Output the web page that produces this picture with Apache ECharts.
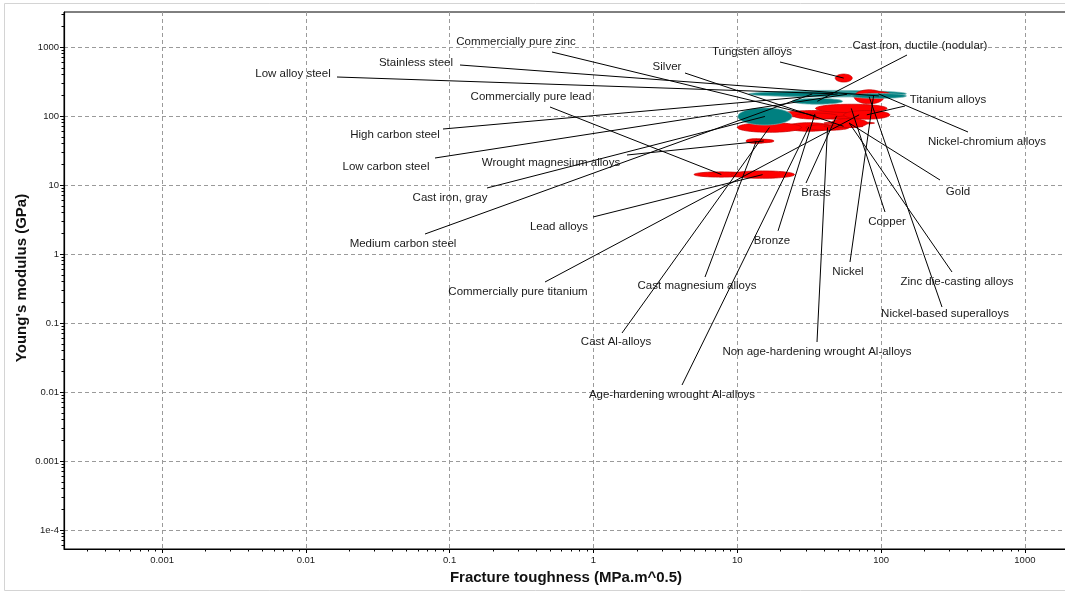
<!DOCTYPE html>
<html>
<head>
<meta charset="utf-8">
<script src="https://cdn.jsdelivr.net/npm/echarts@6/dist/echarts.min.js"></script>
<style>
  html, body { margin: 0; padding: 0; background: #ffffff; }
  #chart { width: 1065px; height: 594px; }
</style>
</head>
<body>
<div id="chart"></div>
<script>
// Metal families plotted as property envelopes:
// fracture toughness (MPa.m^0.5) against Young's modulus (GPa), both on log scales.
const materialNames = [
  'Cast iron, gray', 'Cast iron, ductile (nodular)', 'Low alloy steel', 'Medium carbon steel',
  'High carbon steel', 'Low carbon steel', 'Stainless steel',
  'Commercially pure lead', 'Lead alloys', 'Cast magnesium alloys', 'Wrought magnesium alloys',
  'Cast Al-alloys', 'Age-hardening wrought Al-alloys', 'Non age-hardening wrought Al-alloys',
  'Commercially pure zinc', 'Zinc die-casting alloys', 'Silver', 'Gold', 'Brass', 'Bronze',
  'Copper', 'Commercially pure titanium', 'Titanium alloys', 'Nickel', 'Nickel-chromium alloys',
  'Nickel-based superalloys', 'Tungsten alloys'
];
// 1 = ferrous (teal), 0 = non-ferrous (red)
const ferrous = [1, 1, 1, 1, 1, 1, 1, 0, 0, 0, 0, 0, 0, 0, 0, 0, 0, 0, 0, 0, 0, 0, 0, 0, 0, 0, 0];
const toughnessMin = [10.1, 24, 14, 12, 27, 41, 62, 5, 9, 11.5, 13, 10, 22, 30, 25, 45, 40, 40, 30, 20, 35, 55, 55, 75, 80, 65, 48];
const toughnessMax = [24, 54, 150, 92, 92, 82, 150, 12, 25, 16, 18, 28, 45, 60, 50, 80, 75, 90, 80, 60, 110, 90, 115, 105, 115, 105, 63];
const modulusMin   = [74, 148, 188, 192, 196, 194, 180, 13, 12.5, 40, 41, 58, 60, 62, 90, 68, 69, 77, 90, 95, 112, 100, 90, 185, 195, 150, 310];
const modulusMax   = [131, 180, 235, 226, 222, 220, 212, 15.5, 16, 47, 46, 80, 80, 75, 110, 92, 73, 81, 110, 120, 148, 108, 120, 215, 225, 240, 405];

// Axis tick values and their printed labels
const xTickValues = [0.001, 0.01, 0.1, 1, 10, 100, 1000];
const xTickLabels = ['0.001', '0.01', '0.1', '1', '10', '100', '1000'];
const yTickValues = [1e-4, 0.001, 0.01, 0.1, 1, 10, 100, 1000];
const yTickLabels = ['1e-4', '0.001', '0.01', '0.1', '1', '10', '100', '1000'];

// Annotation layout (pixels): text centre and leader-line start, same order as materialNames
const labelTextX = [450, 920, 293, 403, 395, 386, 416, 531, 559, 697, 551, 616, 672, 817, 516, 957, 667, 958, 816, 772, 887, 518, 948, 848, 987, 945, 752];
const labelTextY = [198, 46, 74, 244, 135, 167, 63, 97, 227, 286, 163, 342, 395, 352, 42, 282, 67, 192, 193, 241, 222, 292, 100, 272, 142, 314, 52];
const leaderX    = [487, 907, 337, 425, 443, 435, 460, 550, 593, 705, 627, 622, 682, 817, 552, 952, 685, 940, 806, 778, 885, 545, 905, 850, 968, 942, 780];
const leaderY    = [188, 55, 77, 234, 129, 158, 65, 107, 217, 277, 155, 333, 385, 342, 52, 272, 73, 180, 183, 231, 212, 282, 106, 262, 132, 307, 62];

const FONT = '"Liberation Sans", Arial, sans-serif';
const log10 = Math.log10;

// Envelopes are painted in alphabetical order of material name
const order = materialNames.map((_, i) => i).sort((a, b) => materialNames[a].localeCompare(materialNames[b]));
const envelopeData = order.map(i => [log10(toughnessMin[i]), log10(toughnessMax[i]), log10(modulusMin[i]), log10(modulusMax[i]), i]);
const labelData = materialNames.map((_, i) => [log10(toughnessMin[i]), log10(toughnessMax[i]), log10(modulusMin[i]), log10(modulusMax[i]), i]);

function minorTicks(lo, hi) {
  const out = [];
  for (let n = Math.floor(lo); n <= Math.ceil(hi); n++) {
    for (let k = 2; k <= 9; k++) {
      const v = n + log10(k);
      if (v > lo && v < hi) out.push(v);
    }
  }
  return out;
}

const X_MIN = -3.682, X_MAX = 3.418;
const Y_MIN = -4.275, Y_MAX = 3.507;

function labelFor(values, labels) {
  return function (v) {
    for (let i = 0; i < values.length; i++) {
      if (Math.abs(log10(values[i]) - v) < 1e-6) return labels[i];
    }
    return '';
  };
}

function renderEnvelope(params, api) {
  const p1 = api.coord([api.value(0), api.value(2)]);
  const p2 = api.coord([api.value(1), api.value(3)]);
  const cx = (p1[0] + p2[0]) / 2, cy = (p1[1] + p2[1]) / 2;
  const rx = Math.abs(p2[0] - p1[0]) / 2, ry = Math.max(Math.abs(p2[1] - p1[1]) / 2, 1.2);
  const pts = [];
  for (let j = 0; j < 60; j++) {
    const t = (Math.PI * 2 * j) / 60;
    pts.push([cx + rx * Math.cos(t), cy + ry * Math.sin(t)]);
  }
  const fe = ferrous[api.value(4)] === 1;
  return {
    type: 'polygon',
    shape: { points: pts },
    style: {
      fill: fe ? '#008080' : '#ff0000',
      stroke: fe ? '#6fb3b3' : '#c40000',
      lineWidth: 0.7
    }
  };
}

function renderLabel(params, api) {
  const i = api.value(4);
  const c = api.coord([(api.value(0) + api.value(1)) / 2, (api.value(2) + api.value(3)) / 2]);
  return {
    type: 'group',
    children: [
      {
        type: 'line',
        shape: { x1: leaderX[i], y1: leaderY[i], x2: c[0], y2: c[1] },
        style: { stroke: '#000000', lineWidth: 1 }
      },
      {
        type: 'text',
        x: labelTextX[i],
        y: labelTextY[i],
        style: {
          text: materialNames[i],
          font: '11.5px ' + FONT,
          fill: '#1a1a1a',
          align: 'center', verticalAlign: 'middle',
          textAlign: 'center', textVerticalAlign: 'middle'
        }
      }
    ]
  };
}

const chart = echarts.init(document.getElementById('chart'), null, { renderer: 'canvas' });
chart.setOption({
  animation: false,
  backgroundColor: '#ffffff',
  grid: {
    left: 64, top: 12, width: 1021, height: 537,
    show: true, borderColor: '#000000', borderWidth: 1, backgroundColor: 'transparent',
    containLabel: false, outerBoundsMode: 'none'
  },
  xAxis: [
    {
      type: 'value', min: X_MIN, max: X_MAX, position: 'bottom',
      axisLine: { show: true, onZero: false, lineStyle: { color: '#000000', width: 1.2 } },
      axisTick: { show: true, length: 4, customValues: xTickValues.map(log10), lineStyle: { color: '#000000' } },
      axisLabel: {
        show: true, customValues: xTickValues.map(log10), formatter: labelFor(xTickValues, xTickLabels),
        fontFamily: FONT, fontSize: 9.5, color: '#1a1a1a', margin: 6
      },
      splitLine: { show: true, lineStyle: { color: '#9a9a9a', width: 1, type: [4, 3] } }
    },
    {
      type: 'value', min: X_MIN, max: X_MAX, position: 'bottom',
      axisLine: { show: false, onZero: false },
      axisTick: { show: true, length: 2.5, customValues: minorTicks(X_MIN, X_MAX), lineStyle: { color: '#000000' } },
      axisLabel: { show: false },
      splitLine: { show: false }
    }
  ],
  yAxis: [
    {
      type: 'value', min: Y_MIN, max: Y_MAX, position: 'left',
      axisLine: { show: true, onZero: false, lineStyle: { color: '#000000', width: 1.2 } },
      axisTick: { show: true, length: 4, customValues: yTickValues.map(log10), lineStyle: { color: '#000000' } },
      axisLabel: {
        show: true, customValues: yTickValues.map(log10), formatter: labelFor(yTickValues, yTickLabels),
        fontFamily: FONT, fontSize: 9.5, color: '#1a1a1a', margin: 5
      },
      splitLine: { show: true, lineStyle: { color: '#9a9a9a', width: 1, type: [4, 3] } }
    },
    {
      type: 'value', min: Y_MIN, max: Y_MAX, position: 'left',
      axisLine: { show: false, onZero: false },
      axisTick: { show: true, length: 2.5, customValues: minorTicks(Y_MIN, Y_MAX), lineStyle: { color: '#000000' } },
      axisLabel: { show: false },
      splitLine: { show: false }
    }
  ],
  series: [
    {
      type: 'custom', name: 'envelopes', silent: true,
      xAxisIndex: 0, yAxisIndex: 0, z: 3,
      renderItem: renderEnvelope,
      encode: { x: [0, 1], y: [2, 3] },
      data: envelopeData
    },
    {
      type: 'custom', name: 'labels', silent: true,
      xAxisIndex: 0, yAxisIndex: 0, z: 5,
      renderItem: renderLabel,
      encode: { x: [0, 1], y: [2, 3] },
      data: labelData
    }
  ],
  graphic: [
    {
      type: 'rect', silent: true, z: -10,
      shape: { x: 4.5, y: 3.5, width: 1100, height: 587 },
      style: { fill: 'none', stroke: '#d4d4d4', lineWidth: 1 }
    },
    {
      type: 'text', silent: true, x: 566, y: 578,
      style: {
        text: 'Fracture toughness (MPa.m^0.5)', font: 'bold 15px ' + FONT, fill: '#111111',
        align: 'center', verticalAlign: 'middle', textAlign: 'center', textVerticalAlign: 'middle'
      }
    },
    {
      type: 'text', silent: true, x: 22, y: 278, rotation: Math.PI / 2,
      style: {
        text: "Young's modulus (GPa)", font: 'bold 15px ' + FONT, fill: '#111111',
        align: 'center', verticalAlign: 'middle', textAlign: 'center', textVerticalAlign: 'middle'
      }
    }
  ]
});
</script>
</body>
</html>
